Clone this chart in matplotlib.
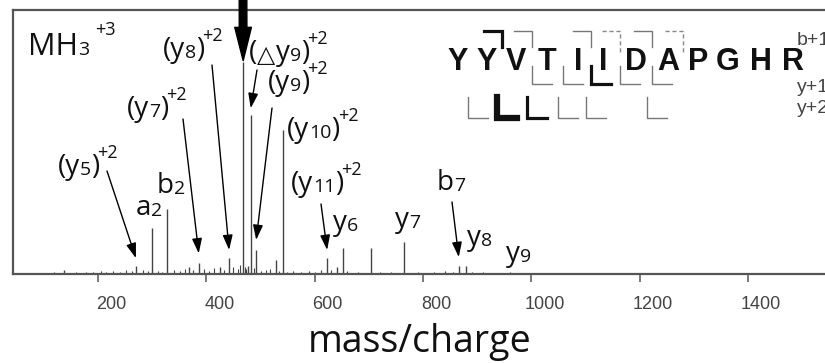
import matplotlib
matplotlib.use('Agg')
import matplotlib.pyplot as plt
import matplotlib.transforms as mtransforms

plt.rcParams['font.family'] = ['Open Sans', 'DejaVu Sans']

# main fragment peaks (m/z, relative intensity)
peak_mz = [137, 270, 300, 327, 368, 386, 425, 442, 468, 477, 482, 492,
           529, 541, 623, 641, 652, 704, 765, 866, 879]
peak_int = [1.5, 3.0, 17.4, 24.6, 2.7, 4.2, 2.5, 5.9, 80.3, 3.0, 60.2, 9.1,
            5.3, 54.5, 5.9, 2.7, 9.8, 9.8, 12.1, 3.0, 3.0]

# small baseline peaks
noise_mz = [118, 160, 178, 190, 205, 215, 228, 240, 252, 262, 283, 292, 310,
            318, 340, 352, 360, 376, 395, 405, 415, 432, 450, 458, 462, 472,
            474, 488, 500, 510, 518, 534, 548, 560, 575, 590, 600, 612, 630,
            660, 680, 720, 740, 790, 820, 840, 855, 890, 910, 935, 960]
noise_int = [0.8, 0.6, 0.9, 0.7, 1.0, 0.8, 1.2, 0.9, 1.4, 1.0, 1.6, 1.1, 1.3,
             0.9, 1.5, 1.2, 2.0, 1.4, 1.8, 1.1, 2.2, 1.6, 2.5, 2.0, 3.4, 2.6,
             1.8, 2.2, 1.3, 1.5, 2.0, 1.1, 0.9, 1.0, 0.8, 1.2, 0.7, 1.6, 1.4,
             1.0, 0.8, 0.7, 0.9, 0.6, 0.8, 1.0, 0.9, 0.6, 0.7, 0.5, 0.6]

tick_values = [200, 400, 600, 800, 1000, 1200, 1400]

# ion labels: (prefix, subscript, suffix, superscript), x px, baseline px
labels = [
    (('(y', '8', ')', '+2'), 163, 57),
    (('y', '9', ')', '+2'), 276, 60),
    (('(y', '9', ')', '+2'), 268, 90),
    (('(y', '7', ')', '+2'), 127, 116),
    (('(y', '10', ')', '+2'), 287, 137),
    (('(y', '5', ')', '+2'), 58, 174),
    (('(y', '11', ')', '+2'), 291, 191),
    (('b', '2', '', ''), 157, 193),
    (('a', '2', '', ''), 136, 215),
    (('y', '6', '', ''), 333, 230),
    (('y', '7', '', ''), 395, 227),
    (('b', '7', '', ''), 437, 190),
    (('y', '8', '', ''), 467, 245),
    (('y', '9', '', ''), 506, 261),
]

# arrows: start (px), target peak m/z, gap above peak top
arrow_start = [(107, 171), (183, 119), (212, 65), (257, 70), (272, 108),
               (321, 204), (452, 202)]
arrow_target = [270, 386, 442, 482, 492, 623, 866]
arrow_gap = [3.0, 3.6, 3.2, 2.6, 3.8, 3.2, 3.4]

# peptide sequence and observed cleavages
sequence = list('YYVTIIDAPGHR')
letter_x = [458, 487, 516, 547, 578, 603, 636, 668, 698, 728, 761, 793]
b_sites = [2, 3, 5, 6, 7, 8]
b_style = ['bold', 'thin', 'thin', 'dashed', 'thin', 'dashed']
y1_sites = [3, 4, 5, 6, 7]
y1_style = ['thin', 'thin', 'bold', 'thin', 'thin']
y2_sites = [1, 2, 3, 4, 5, 7]
y2_style = ['thin', 'xbold', 'bold', 'thin', 'thin', 'thin']

W, H = 825, 363
fig = plt.figure(figsize=(W / 100, H / 100), dpi=100)
ax = fig.add_axes([13 / W, 1 - 274 / H, (835 - 13) / W, (274 - 10) / H])
ax.vlines(peak_mz, 0, peak_int, color='#444', lw=1.0)
ax.vlines(noise_mz, 0, noise_int, color='#444', lw=0.8)
ax.set_xlim(43.1, 1560.5)
ax.set_ylim(0, 100)
for s in ['top', 'left', 'bottom']:
    ax.spines[s].set_color('#555')
    ax.spines[s].set_linewidth(1.6)
ax.spines['right'].set_visible(False)
ax.set_yticks([])
ax.set_xticks(tick_values)
ax.tick_params(axis='x', direction='out', length=6, width=1.1, color='#555',
               pad=10, labelsize=13, labelcolor='#444')
offset = mtransforms.ScaledTranslation(13 / 100, 0, fig.dpi_scale_trans)
for lab in ax.get_xticklabels():
    lab.set_fontfamily('Liberation Sans')
    lab.set_transform(lab.get_transform() + offset)

# overlay in pixel coordinates for the annotations
ov = fig.add_axes([0, 0, 1, 1], zorder=5)
ov.set_xlim(0, W)
ov.set_ylim(H, 0)
ov.axis('off')
renderer = fig.canvas.get_renderer()


def compose(x, y, parts):
    # parts: (text, size, dx, dy) drawn one after another
    for s, size, dx, dy in parts:
        if not s:
            continue
        x += dx
        t = ov.text(x, y + dy, s, fontsize=size, va='baseline', color='#111')
        x += t.get_window_extent(renderer).width
    return x


ov.text(420, 352, 'mass/charge', fontsize=27, ha='center', va='baseline',
        color='#111')
compose(28, 55, [('MH', 22, 0, 0), ('3', 14, 0, 0), ('+3', 13, 6, -20)])

ov.text(249, 60, '(', fontsize=20, va='baseline', color='#111')
ov.text(257, 62, '\u25b3', fontsize=17, va='baseline', color='#111',
        family='DejaVu Sans')

for (pre, sub, suf, sup), x, y in labels:
    compose(x, y, [(pre, 20, 0, 0), (sub, 14, 0, 1), (suf, 20, 0, 0),
                   (sup, 13, -2, -16)])

for (sx, sy), m, g in zip(arrow_start, arrow_target, arrow_gap):
    h = peak_int[peak_mz.index(m)]
    ax.annotate('', xy=(m, h + g), xycoords='data', xytext=(sx, sy),
                textcoords=ov.transData,
                arrowprops=dict(arrowstyle='-|>,head_length=0.9,head_width=0.3',
                                color='black', lw=1.0, shrinkA=0, shrinkB=0,
                                mutation_scale=10))

# big arrow onto the precursor
m0 = peak_mz[peak_int.index(max(peak_int))]
ax.annotate('', xy=(m0, max(peak_int) + 0.5), xycoords='data',
            xytext=(243, -5), textcoords=ov.transData,
            arrowprops=dict(arrowstyle='simple,head_length=2.4,head_width=1.2,tail_width=0.55',
                            color='black', shrinkA=0, shrinkB=0, mutation_scale=10))

# sequence
for ch, x in zip(sequence, letter_x):
    ov.text(x, 70, ch, fontsize=22, fontweight='bold', family='Liberation Sans',
            ha='center', va='baseline', color='#111')

widths = {'thin': 1.0, 'bold': 2.3, 'xbold': 4.5}
colors = {'thin': '#777', 'bold': '#111', 'xbold': '#111', 'dashed': '#888'}


def cut_x(i):
    return (letter_x[i - 1] + letter_x[i]) / 2


for i, st in zip(b_sites, b_style):
    x = cut_x(i)
    lw = widths.get(st, 1.0)
    ln, = ov.plot([x - 18, x, x], [31, 31, 52 if st == 'dashed' else 47],
                  color=colors[st], lw=lw, solid_joinstyle='miter')
    if st == 'dashed':
        ln.set_dashes([3, 2])

for i, st in zip(y1_sites, y1_style):
    x = cut_x(i)
    ov.plot([x, x, x + 20], [66, 84, 84], color=colors[st], lw=widths[st],
            solid_joinstyle='miter')

for i, st in zip(y2_sites, y2_style):
    x = cut_x(i) - 5
    ov.plot([x, x, x + 20], [97, 118, 118], color=colors[st], lw=widths[st],
            solid_joinstyle='miter')

ov.text(797, 45, 'b+1', fontsize=14, family='Liberation Sans', color='#444',
        va='baseline')
ov.text(797, 92, 'y+1', fontsize=14, family='Liberation Sans', color='#444',
        va='baseline')
ov.text(797, 113, 'y+2', fontsize=14, family='Liberation Sans', color='#444',
        va='baseline')

fig.savefig('out.png', dpi=100)
